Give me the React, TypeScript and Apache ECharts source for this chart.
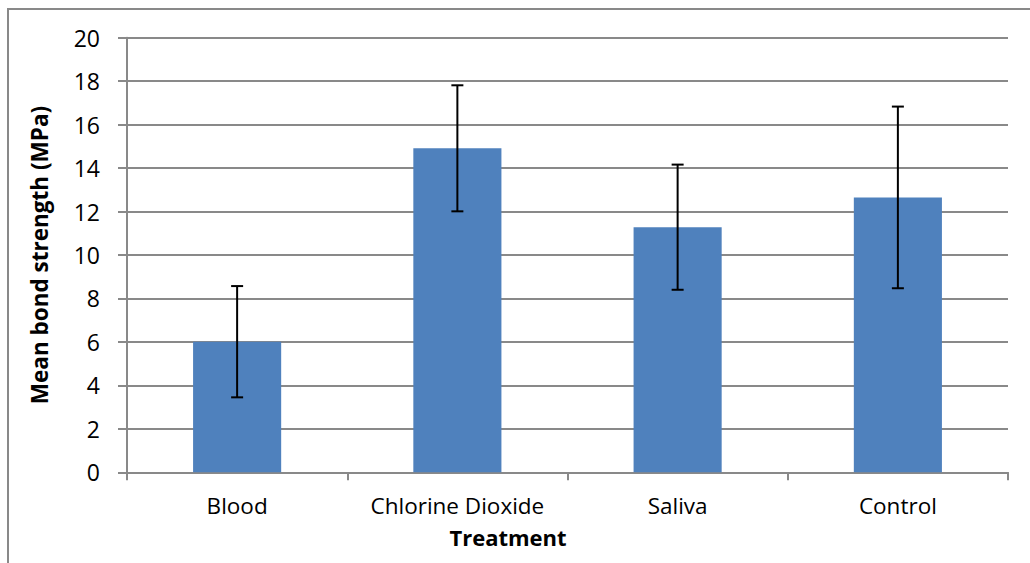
import React, { useEffect, useRef } from "react";
import * as echarts from "echarts";

const categories = ["Blood", "Chlorine Dioxide", "Saliva", "Control"];
const meanValues = [6.01, 14.91, 11.28, 12.65];
const errorValues = [2.56, 2.9, 2.88, 4.18];
const yTicks = [0, 2, 4, 6, 8, 10, 12, 14, 16, 18, 20];

const FONT = "Open Sans";

export default function App() {
  const ref = useRef<HTMLDivElement>(null);
  useEffect(() => {
    const chart = echarts.init(ref.current!, null, { renderer: "svg" });
    const errData = meanValues.map((m, i) => [i, m - errorValues[i], m + errorValues[i]]);
    chart.setOption({
      animation: false,
      backgroundColor: "#ffffff",
      grid: { left: 127, top: 37.7, right: 22, bottom: 90.7, containLabel: false },
      xAxis: {
        type: "category",
        data: categories,
        boundaryGap: true,
        axisLine: { lineStyle: { color: "#898989", width: 2 } },
        axisTick: { show: true, interval: 0, length: 8, lineStyle: { color: "#898989", width: 2 } },
        axisLabel: { color: "#000", fontFamily: FONT, fontSize: 22.5, margin: 22, interval: 0, hideOverlap: false },
      },
      yAxis: {
        type: "value",
        min: yTicks[0],
        max: yTicks[yTicks.length - 1],
        interval: 2,
        name: "Mean bond strength (MPa)",
        nameLocation: "middle",
        nameGap: 76,
        nameTextStyle: { color: "#000", fontFamily: FONT, fontSize: 22.5, fontWeight: "bold" },
        axisLine: { show: true, lineStyle: { color: "#898989", width: 2 } },
        axisTick: { show: true, length: 9, lineStyle: { color: "#898989", width: 2 } },
        axisLabel: { color: "#000", fontFamily: FONT, fontSize: 23, margin: 27 },
        splitLine: { lineStyle: { color: "#898989", width: 2 } },
      },
      graphic: [
        {
          type: "rect",
          shape: { x: 8, y: 9, width: 1100, height: 700 },
          style: { fill: "none", stroke: "#898989", lineWidth: 2 },
          silent: true,
        },
        {
          type: "text",
          x: 508,
          y: 537,
          style: {
            text: "Treatment",
            fill: "#000",
            font: `bold 22px '${FONT}'`,
            textAlign: "center",
            textVerticalAlign: "middle",
          },
        },
      ],
      series: [
        {
          type: "bar",
          data: meanValues,
          barWidth: "40%",
          itemStyle: { color: "#4f81bd" },
        },
        {
          type: "custom",
          data: errData,
          z: 10,
          renderItem: (params: any, api: any) => {
            const x = api.value(0);
            const lo = api.coord([x, api.value(1)]);
            const hi = api.coord([x, api.value(2)]);
            const w = 6;
            const style = { stroke: "#000", lineWidth: 2 };
            return {
              type: "group",
              children: [
                { type: "line", shape: { x1: lo[0], y1: lo[1], x2: hi[0], y2: hi[1] }, style },
                { type: "line", shape: { x1: lo[0] - w, y1: lo[1], x2: lo[0] + w, y2: lo[1] }, style },
                { type: "line", shape: { x1: hi[0] - w, y1: hi[1], x2: hi[0] + w, y2: hi[1] }, style },
              ],
            };
          },
        },
      ],
    });
    return () => chart.dispose();
  }, []);
  return (
    <div
      ref={ref}
      style={{ position: "fixed", left: 0, top: 0, width: 1030, height: 563 }}
    />
  );
}
